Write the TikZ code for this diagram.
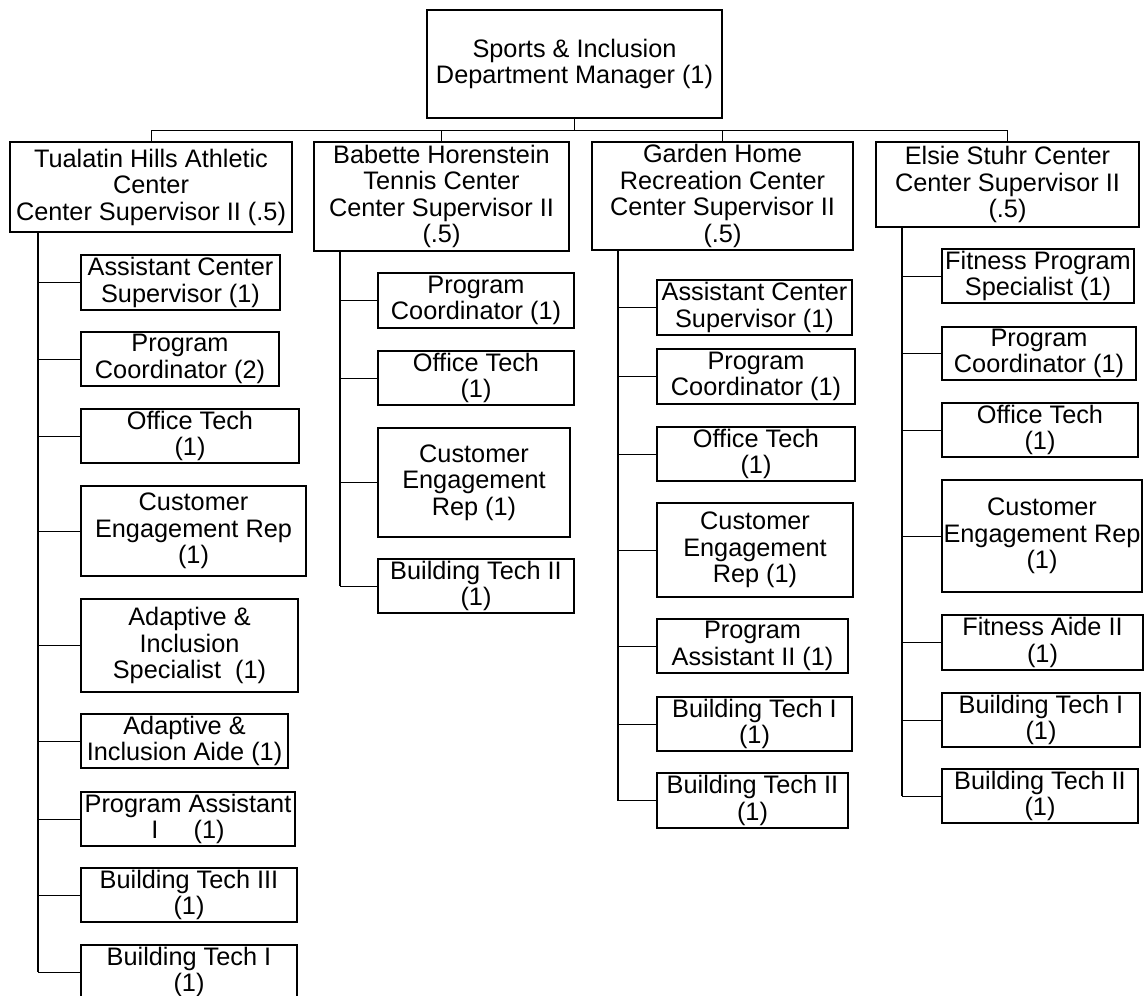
\documentclass[tikz,border=0pt]{standalone}
\usepackage{fontspec}
\setmainfont{Liberation Sans}
\usetikzlibrary{positioning}

\begin{document}
\begin{tikzpicture}[
    x=1pt, y=-1pt,
    node distance=23pt,
    font=\fontsize{25.3pt}{26.5pt}\selectfont,
    post/.style={draw, line width=1.2pt, align=center, inner sep=0pt, outer sep=0pt, minimum height=54pt},
    link/.style={line width=1pt},
    spine/.style={line width=2pt},
]
\useasboundingbox (0,0) rectangle (1144,996);
\clip (0,0) rectangle (1144,996);

% Manager and centre supervisors
\node[post, anchor=north west, minimum width=295pt, minimum height=108pt] (mgr) at (427,10) {Sports \& Inclusion\\Department Manager (1)};
\node[post, anchor=north west, minimum width=282pt, minimum height=90pt] (tha) at (10,142) {Tualatin Hills Athletic\\Center\\Center Supervisor II (.5)};
\node[post, anchor=north west, minimum width=255pt, minimum height=109pt] (bht) at (314,142) {Babette Horenstein\\Tennis Center\\Center Supervisor II\\(.5)};
\node[post, anchor=north west, minimum width=261pt, minimum height=108pt] (ghr) at (592,142) {Garden Home\\Recreation Center\\Center Supervisor II\\(.5)};
\node[post, anchor=north west, minimum width=263pt, minimum height=85pt] (esc) at (876,142) {Elsie Stuhr Center\\Center Supervisor II\\(.5)};

% Tualatin Hills staff
\node[post, minimum width=199pt, minimum height=55pt, below=of tha.south west, xshift=71pt, anchor=north west] (thaAcs) {Assistant Center\\Supervisor (1)};
\node[post, minimum width=198pt, below=22pt of thaAcs.south west, anchor=north west] (thaPc) {Program\\Coordinator (2)};
\node[post, minimum width=218pt, below=of thaPc.south west, anchor=north west] (thaOt) {Office Tech\\(1)};
\node[post, minimum width=225pt, minimum height=90pt, below=of thaOt.south west, anchor=north west] (thaCer) {Customer\\Engagement Rep\\(1)};
\node[post, minimum width=217pt, minimum height=93pt, below=of thaCer.south west, anchor=north west] (thaAis) {Adaptive \&\\Inclusion\\Specialist\ \ (1)};
\node[post, minimum width=207pt, below=22pt of thaAis.south west, anchor=north west] (thaAia) {Adaptive \&\\Inclusion Aide (1)};
\node[post, minimum width=214pt, below=24pt of thaAia.south west, anchor=north west] (thaPa) {Program Assistant\\I\ \ \ \ \ (1)};
\node[post, minimum width=216pt, below=22pt of thaPa.south west, anchor=north west] (thaBt3) {Building Tech III\\(1)};
\node[post, minimum width=216pt, below=of thaBt3.south west, anchor=north west] (thaBt1) {Building Tech I\\(1)};

% Babette Horenstein staff
\node[post, minimum width=196pt, minimum height=55pt, below=22pt of bht.south west, xshift=64pt, anchor=north west] (bhtPc) {Program\\Coordinator (1)};
\node[post, minimum width=196pt, below=of bhtPc.south west, anchor=north west] (bhtOt) {Office Tech\\(1)};
\node[post, minimum width=192pt, minimum height=109pt, below=of bhtOt.south west, anchor=north west] (bhtCer) {Customer\\Engagement\\Rep (1)};
\node[post, minimum width=196pt, below=22pt of bhtCer.south west, anchor=north west] (bhtBt2) {Building Tech II\\(1)};

% Garden Home staff
\node[post, minimum width=195pt, minimum height=55pt, below=30pt of ghr.south west, xshift=65pt, anchor=north west] (ghrAcs) {Assistant Center\\Supervisor (1)};
\node[post, minimum width=198pt, minimum height=55pt, below=14pt of ghrAcs.south west, anchor=north west] (ghrPc) {Program\\Coordinator (1)};
\node[post, minimum width=198pt, below=of ghrPc.south west, anchor=north west] (ghrOt) {Office Tech\\(1)};
\node[post, minimum width=196pt, minimum height=94pt, below=22pt of ghrOt.south west, anchor=north west] (ghrCer) {Customer\\Engagement\\Rep (1)};
\node[post, minimum width=191pt, below=22pt of ghrCer.south west, anchor=north west] (ghrPa) {Program\\Assistant II (1)};
\node[post, minimum width=195pt, below=24pt of ghrPa.south west, anchor=north west] (ghrBt1) {Building Tech I\\(1)};
\node[post, minimum width=191pt, minimum height=55pt, below=22pt of ghrBt1.south west, anchor=north west] (ghrBt2) {Building Tech II\\(1)};

% Elsie Stuhr staff
\node[post, minimum width=192pt, below=22pt of esc.south west, xshift=66pt, anchor=north west] (escFps) {Fitness Program\\Specialist (1)};
\node[post, minimum width=194pt, minimum height=53pt, below=24pt of escFps.south west, anchor=north west] (escPc) {Program\\Coordinator (1)};
\node[post, minimum width=196pt, below=of escPc.south west, anchor=north west] (escOt) {Office Tech\\(1)};
\node[post, minimum width=200pt, minimum height=112pt, below=of escOt.south west, anchor=north west] (escCer) {Customer\\Engagement Rep\\(1)};
\node[post, minimum width=201pt, minimum height=55pt, below=of escCer.south west, anchor=north west] (escFa) {Fitness Aide II\\(1)};
\node[post, minimum width=198pt, below=of escFa.south west, anchor=north west] (escBt1) {Building Tech I\\(1)};
\node[post, minimum width=196pt, below=22pt of escBt1.south west, anchor=north west] (escBt2) {Building Tech II\\(1)};

% Top bus
\coordinate (bus) at ([yshift=-12pt]mgr.south);
\draw[link] (mgr.south) -- (bus);
\foreach \c in {tha,bht,ghr,esc}
    \draw[link] (bus) -| (\c.north);

% Spines and branches
\coordinate (thaS) at ([xshift=28pt]tha.south west);
\coordinate (bhtS) at ([xshift=26pt]bht.south west);
\coordinate (ghrS) at ([xshift=26pt]ghr.south west);
\coordinate (escS) at ([xshift=26pt]esc.south west);

\foreach \n in {thaAcs,thaPc,thaOt,thaCer,thaAis,thaAia,thaPa,thaBt3,thaBt1}
    \draw[link] (thaS) |- (\n.west);
\foreach \n in {bhtPc,bhtOt,bhtCer,bhtBt2}
    \draw[link] (bhtS) |- (\n.west);
\foreach \n in {ghrAcs,ghrPc,ghrOt,ghrCer,ghrPa,ghrBt1,ghrBt2}
    \draw[link] (ghrS) |- (\n.west);
\foreach \n in {escFps,escPc,escOt,escCer,escFa,escBt1,escBt2}
    \draw[link] (escS) |- (\n.west);

\draw[spine] (thaS) -- (thaS |- thaBt1.west);
\draw[spine] (bhtS) -- (bhtS |- bhtBt2.west);
\draw[spine] (ghrS) -- (ghrS |- ghrBt2.west);
\draw[spine] (escS) -- (escS |- escBt2.west);
\end{tikzpicture}
\end{document}
